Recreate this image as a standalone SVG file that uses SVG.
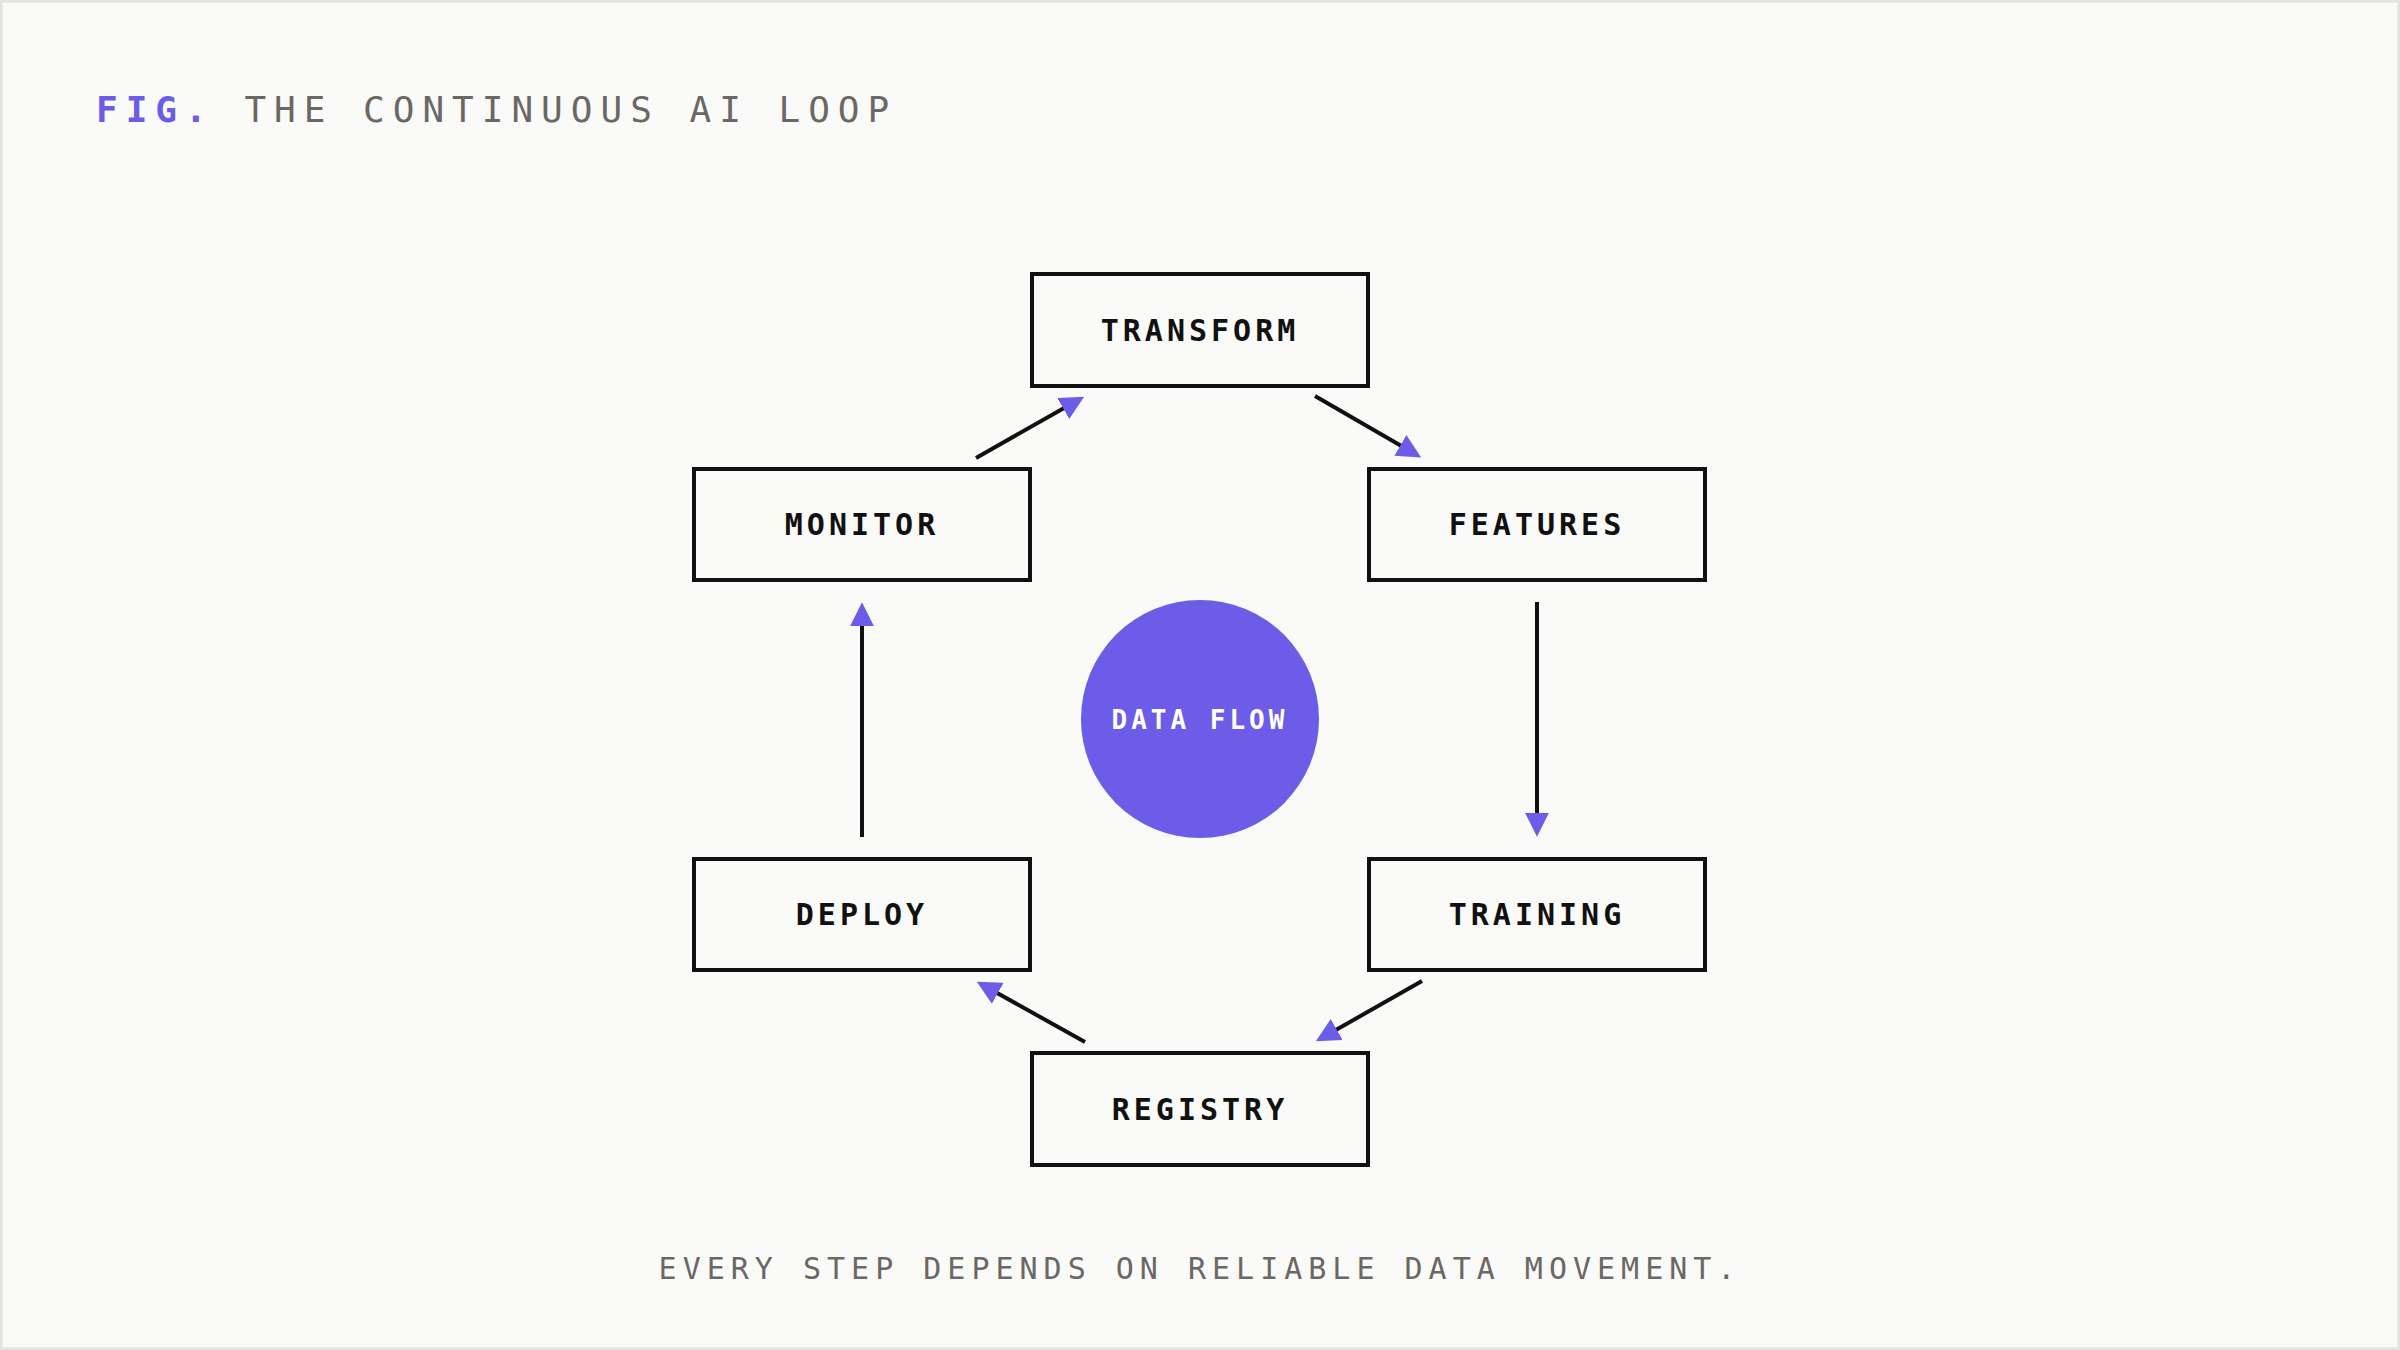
<svg xmlns="http://www.w3.org/2000/svg" width="2400" height="1350" viewBox="0 0 2400 1350">
<style>
.box{fill:none;stroke:#111;stroke-width:4}
.lbl{font-family:"DejaVu Sans Mono","Liberation Mono",monospace;font-weight:bold;font-size:30px;letter-spacing:4px;fill:#111;text-anchor:middle}
.con{stroke:#111;stroke-width:4;fill:none;marker-end:url(#ah)}
</style>
<defs>
<marker id="ah" viewBox="0 0 10 10" refX="8" refY="5" markerWidth="6" markerHeight="6" markerUnits="strokeWidth" orient="auto"><path d="M0,0 L10,5 L0,10 Z" fill="#6C5CE7"/></marker>
</defs>
<rect x="1" y="1" width="2398" height="1348" fill="#FAFAF8" stroke="#e2e2e0" stroke-width="3"/>
<text x="96" y="122" font-family="DejaVu Sans Mono,Liberation Mono,monospace" font-size="36" letter-spacing="8"><tspan fill="#6C5CE7" font-weight="bold">FIG.</tspan><tspan fill="#6b6763"> THE CONTINUOUS AI LOOP</tspan></text>
<g id="connectors">
<line class="con" x1="976" y1="458" x2="1080" y2="399"/>
<line class="con" x1="1315" y1="396" x2="1417" y2="455"/>
<line class="con" x1="1537" y1="602" x2="1537" y2="832"/>
<line class="con" x1="1422" y1="981" x2="1320" y2="1039"/>
<line class="con" x1="1085" y1="1042" x2="981" y2="984"/>
<line class="con" x1="862" y1="837" x2="862" y2="607"/>
</g>
<g id="transform"><rect class="box" x="1032" y="274" width="336" height="112"/><text class="lbl" x="1200" y="341">TRANSFORM</text></g>
<g id="monitor"><rect class="box" x="694" y="469" width="336" height="111"/><text class="lbl" x="862" y="535">MONITOR</text></g>
<g id="features"><rect class="box" x="1369" y="469" width="336" height="111"/><text class="lbl" x="1537" y="535">FEATURES</text></g>
<g id="deploy"><rect class="box" x="694" y="859" width="336" height="111"/><text class="lbl" x="862" y="925">DEPLOY</text></g>
<g id="training"><rect class="box" x="1369" y="859" width="336" height="111"/><text class="lbl" x="1537" y="925">TRAINING</text></g>
<g id="registry"><rect class="box" x="1032" y="1053" width="336" height="112"/><text class="lbl" x="1200" y="1120">REGISTRY</text></g>
<g id="dataflow"><circle cx="1200" cy="719" r="119" fill="#6C5CE7"/><text x="1200" y="729" font-family="DejaVu Sans Mono,Liberation Mono,monospace" font-weight="bold" font-size="26" letter-spacing="4" fill="#fff" text-anchor="middle">DATA FLOW</text></g>
<text x="1200" y="1279" font-family="DejaVu Sans Mono,Liberation Mono,monospace" font-size="30" letter-spacing="6" fill="#6b6763" text-anchor="middle">EVERY STEP DEPENDS ON RELIABLE DATA MOVEMENT.</text>
</svg>
